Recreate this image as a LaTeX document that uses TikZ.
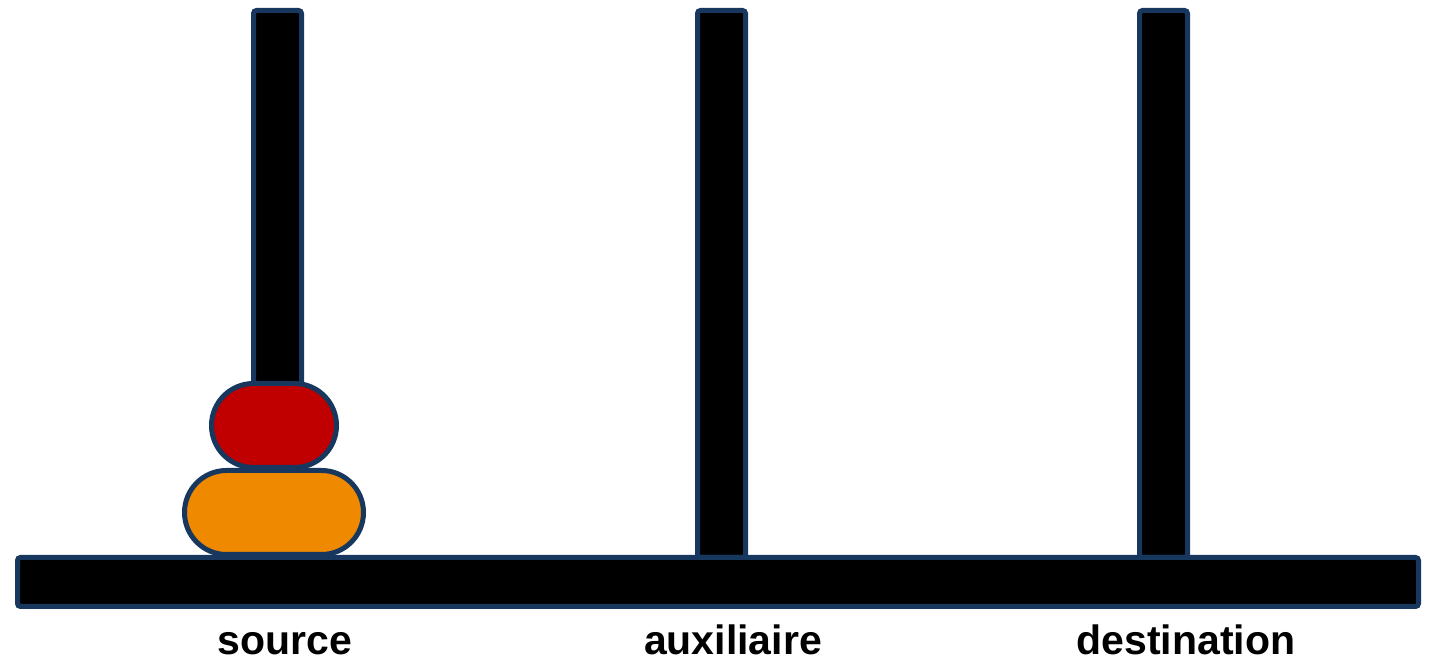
\documentclass[tikz,border=0pt]{standalone}
\usepackage{fontspec}
\setmainfont{Liberation Sans}
\definecolor{edge}{RGB}{23,55,94}
\definecolor{diskred}{RGB}{192,0,0}
\definecolor{diskorange}{RGB}{239,137,0}
\begin{document}
\begin{tikzpicture}[x=1pt,y=1pt,
  part/.style={draw=edge,line width=5pt,rounded corners=3pt,fill=black},
  disk/.style={draw=edge,line width=5pt,rounded corners=42pt},
  label/.style={anchor=base,font=\fontsize{41}{48}\selectfont\bfseries,inner sep=0pt}]
\useasboundingbox (0,0) rectangle (1430,663);
% rods
\draw[part] (253.5,105.5) rectangle (301.5,652.5);
\draw[part] (697.5,105.5) rectangle (745.5,652.5);
\draw[part] (1139.5,105.5) rectangle (1187.5,652.5);
% base
\draw[part] (17.5,56.5) rectangle (1418.5,105.5);
% disks
\draw[disk,fill=diskorange] (184.5,108.5) rectangle (363.5,192.5);
\draw[disk,fill=diskred] (211.5,195.5) rectangle (336.5,279.5);
% labels
\node[label] (src) at (285,8) {source};
\node[label] (aux) at (733,8) {auxiliaire};
\node[label] (dst) at (1186,8) {destination};
\end{tikzpicture}
\end{document}
